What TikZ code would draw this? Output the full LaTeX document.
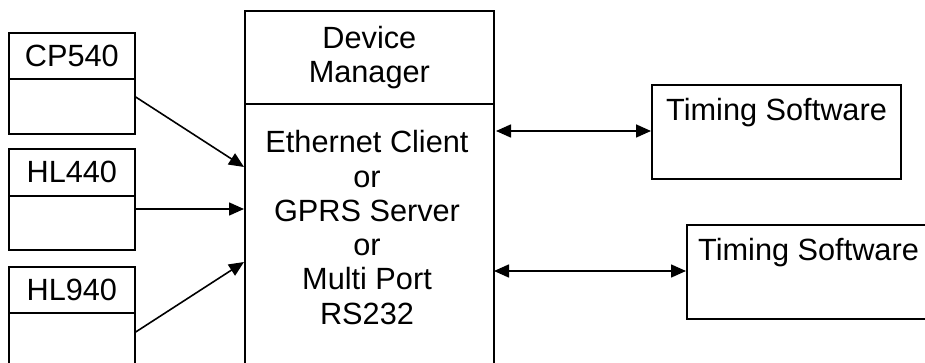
\documentclass[tikz,border=0pt]{standalone}
\usepackage{fontspec}
\setmainfont{Liberation Sans}
\usetikzlibrary{arrows.meta,calc}
\begin{document}
\begin{tikzpicture}[x=1pt,y=-1pt,
  box/.style={draw,line width=1.7pt,inner sep=0pt,anchor=north west},
  lbl/.style={font=\fontsize{30.7}{34.3}\selectfont,align=center,inner sep=0pt},
  conn/.style={line width=1.6pt,-{Triangle[length=15pt,width=13pt]}},
  dconn/.style={line width=1.6pt,{Triangle[length=15pt,width=13pt]}-{Triangle[length=15pt,width=13pt]}}]
\useasboundingbox (0,0) rectangle (925,363);
\clip (0,0) rectangle (925,363);
% left devices
\node[box,minimum width=126pt,minimum height=46pt] (cpT) at (8,32) {};
\node[box,minimum width=126pt,minimum height=55pt] (cpB) at (8,78) {};
\node[lbl] (cpL) at (cpT.center) {CP540};
\node[box,minimum width=126pt,minimum height=47pt] (hl4T) at (8,148) {};
\node[box,minimum width=126pt,minimum height=54pt] (hl4B) at (8,195) {};
\node[lbl] (hl4L) at (hl4T.center) {HL440};
\node[box,minimum width=126pt,minimum height=46pt] (hl9T) at (8,266) {};
\node[box,minimum width=126pt,minimum height=70pt] (hl9B) at (8,312) {};
\node[lbl] (hl9L) at (hl9T.center) {HL940};
% device manager
\node[box,minimum width=249pt,minimum height=93pt] (mainT) at (244,10) {};
\node[lbl] (mainTL) at (mainT.center) {Device\\Manager};
\node[box,minimum width=249pt,minimum height=275pt] (mainB) at (244,103) {};
\node[lbl] (mainBL) at (367,227.5) {Ethernet Client\\or\\GPRS Server\\or\\Multi Port\\RS232};
% timing software
\node[box,minimum width=249pt,minimum height=94pt] (ts1) at (651,84) {};
\node[lbl,anchor=west] (ts1L) at (666,113) {Timing Software};
\node[box,minimum width=260pt,minimum height=94pt] (ts2) at (686,224) {};
\node[lbl,anchor=west] (ts2L) at (698,253) {Timing Software};
% connectors
\coordinate (a1s) at (cpB.north east |- 0,97);
\coordinate (a1e) at (mainB.west |- 0,167);
\coordinate (a2s) at (hl4B.north east |- 0,209);
\coordinate (a2e) at (mainB.west |- 0,209);
\coordinate (a3s) at (hl9B.north east |- 0,332);
\coordinate (a3e) at (mainB.west |- 0,262);
\draw[conn] (a1s) -- (a1e);
\draw[conn] (a2s) -- (a2e);
\draw[conn] (a3s) -- (a3e);
\coordinate (b1s) at (496,131);
\coordinate (b1e) at (ts1.west |- 0,131);
\coordinate (b2s) at (494,271);
\coordinate (b2e) at (ts2.west |- 0,271);
\draw[dconn] (b1s) -- (b1e);
\draw[dconn] (b2s) -- (b2e);
\end{tikzpicture}
\end{document}
